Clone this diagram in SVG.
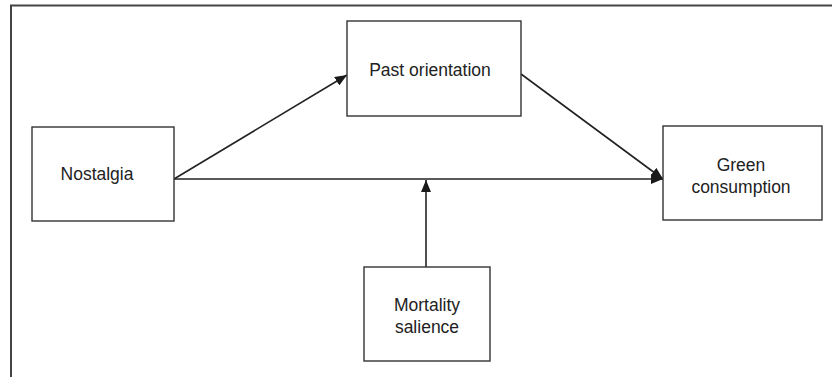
<svg xmlns="http://www.w3.org/2000/svg" width="832" height="377" viewBox="0 0 832 377">
<defs>
<style>
.box{fill:#fff;stroke:#333;stroke-width:1.4}
.lbl{font-family:"Liberation Sans",Arial,sans-serif;font-size:17.5px;fill:#222;text-anchor:middle}
.edge{stroke:#222;stroke-width:1.6;fill:none;marker-end:url(#ah)}
.frame{stroke:#444;stroke-width:2;fill:none}
</style>
<marker id="ah" viewBox="0 0 12 10" refX="12" refY="5" markerWidth="12" markerHeight="10" markerUnits="userSpaceOnUse" orient="auto">
<path d="M0,0 L12,5 L0,10 Z" fill="#1a1a1a"/>
</marker>
</defs>
<rect width="832" height="377" fill="#fff"/>
<path class="frame" d="M11,377 V5.5 H832"/>
<g id="connectors">
<line class="edge" x1="174" y1="179" x2="663" y2="179"/>
<line class="edge" x1="174" y1="179" x2="347" y2="75"/>
<line class="edge" x1="521" y1="74" x2="663" y2="179"/>
<line class="edge" x1="426" y1="267" x2="426" y2="180"/>
</g>
<g id="nostalgia">
<rect class="box" x="32" y="127" width="142" height="94"/>
<text class="lbl" x="97" y="180">Nostalgia</text>
</g>
<g id="past">
<rect class="box" x="347" y="21" width="174" height="95"/>
<text class="lbl" x="430" y="76">Past orientation</text>
</g>
<g id="green">
<rect class="box" x="663" y="126" width="159" height="94"/>
<text class="lbl" x="741" y="171">Green</text>
<text class="lbl" x="741" y="193">consumption</text>
</g>
<g id="mortality">
<rect class="box" x="364" y="267" width="126" height="94"/>
<text class="lbl" x="427" y="311">Mortality</text>
<text class="lbl" x="427" y="333">salience</text>
</g>
</svg>
